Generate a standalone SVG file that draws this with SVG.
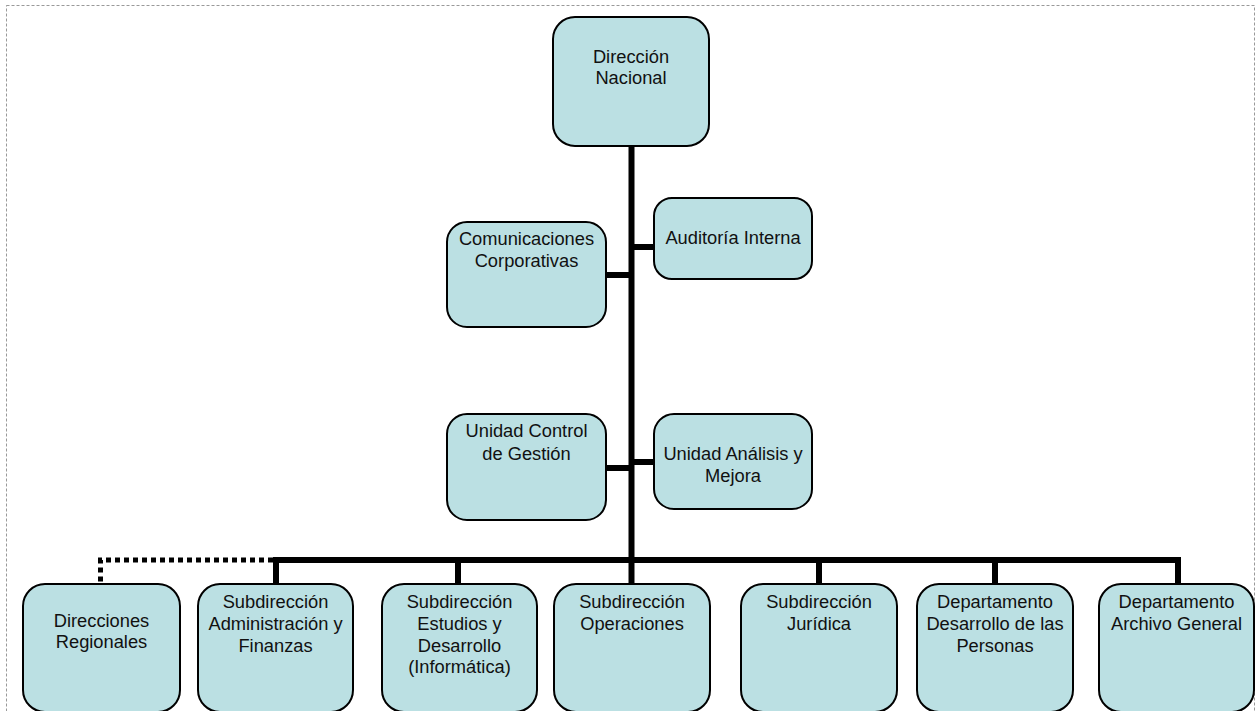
<svg xmlns="http://www.w3.org/2000/svg" width="1257" height="711" viewBox="0 0 1257 711">
<style>
.box{fill:#BBE0E3;stroke:#000;stroke-width:2}
.t{font-family:"Liberation Sans",Arial,sans-serif;font-size:18.3px;fill:#111;text-anchor:middle}
.ln{stroke:#000;stroke-width:6;fill:none}
.dot{stroke:#000;stroke-width:5;fill:none;stroke-dasharray:5 4}
</style>
<rect x="6.5" y="5.5" width="1248" height="760" fill="none" stroke="#999" stroke-width="1" stroke-dasharray="3 2"/>
<g id="connectors">
<line class="ln" x1="631.5" y1="146" x2="631.5" y2="563"/>
<line class="ln" x1="631.5" y1="247" x2="654" y2="247"/>
<line class="ln" x1="606" y1="275" x2="631.5" y2="275"/>
<line class="ln" x1="606" y1="468" x2="631.5" y2="468"/>
<line class="ln" x1="631.5" y1="462" x2="654" y2="462"/>
<line class="ln" x1="273" y1="560" x2="1181" y2="560"/>
<line class="ln" x1="276" y1="560" x2="276" y2="584"/>
<line class="ln" x1="458" y1="560" x2="458" y2="584"/>
<line class="ln" x1="631.5" y1="560" x2="631.5" y2="584"/>
<line class="ln" x1="819" y1="560" x2="819" y2="584"/>
<line class="ln" x1="995" y1="560" x2="995" y2="584"/>
<line class="ln" x1="1178" y1="557" x2="1178" y2="584"/>
<path class="dot" d="M273 560 H100.5 V584"/>
</g>
<g id="n-direccion-nacional">
<rect class="box" x="553" y="17" width="156" height="129" rx="22"/>
<text class="t" x="631" y="63">Dirección</text>
<text class="t" x="631" y="84">Nacional</text>
</g>
<g id="n-comunicaciones">
<rect class="box" x="447" y="222" width="159" height="105" rx="20"/>
<text class="t" x="526.5" y="245">Comunicaciones</text>
<text class="t" x="526.5" y="267">Corporativas</text>
</g>
<g id="n-auditoria">
<rect class="box" x="654" y="198" width="158" height="81" rx="18"/>
<text class="t" x="733" y="244">Auditoría Interna</text>
</g>
<g id="n-control-gestion">
<rect class="box" x="447" y="414" width="159" height="106" rx="20"/>
<text class="t" x="526.5" y="437">Unidad Control</text>
<text class="t" x="526.5" y="460">de Gestión</text>
</g>
<g id="n-analisis-mejora">
<rect class="box" x="654" y="414" width="158" height="95" rx="20"/>
<text class="t" x="733" y="460">Unidad Análisis y</text>
<text class="t" x="733" y="482">Mejora</text>
</g>
<g id="n-direcciones-regionales">
<rect class="box" x="23" y="584" width="157" height="128" rx="22"/>
<text class="t" x="101.5" y="627">Direcciones</text>
<text class="t" x="101.5" y="648">Regionales</text>
</g>
<g id="n-admin-finanzas">
<rect class="box" x="198" y="584" width="155" height="128" rx="22"/>
<text class="t" x="275.5" y="608">Subdirección</text>
<text class="t" x="275.5" y="630">Administración y</text>
<text class="t" x="275.5" y="652">Finanzas</text>
</g>
<g id="n-estudios">
<rect class="box" x="382" y="584" width="155" height="128" rx="22"/>
<text class="t" x="459.5" y="608">Subdirección</text>
<text class="t" x="459.5" y="630">Estudios y</text>
<text class="t" x="459.5" y="652">Desarrollo</text>
<text class="t" x="459.5" y="673">(Informática)</text>
</g>
<g id="n-operaciones">
<rect class="box" x="554" y="584" width="156" height="128" rx="22"/>
<text class="t" x="632" y="608">Subdirección</text>
<text class="t" x="632" y="630">Operaciones</text>
</g>
<g id="n-juridica">
<rect class="box" x="741" y="584" width="156" height="128" rx="22"/>
<text class="t" x="819" y="608">Subdirección</text>
<text class="t" x="819" y="630">Jurídica</text>
</g>
<g id="n-personas">
<rect class="box" x="917" y="584" width="156" height="128" rx="22"/>
<text class="t" x="995" y="608">Departamento</text>
<text class="t" x="995" y="630">Desarrollo de las</text>
<text class="t" x="995" y="652">Personas</text>
</g>
<g id="n-archivo">
<rect class="box" x="1099" y="584" width="155" height="128" rx="22"/>
<text class="t" x="1176.5" y="608">Departamento</text>
<text class="t" x="1176.5" y="630">Archivo General</text>
</g>
</svg>
